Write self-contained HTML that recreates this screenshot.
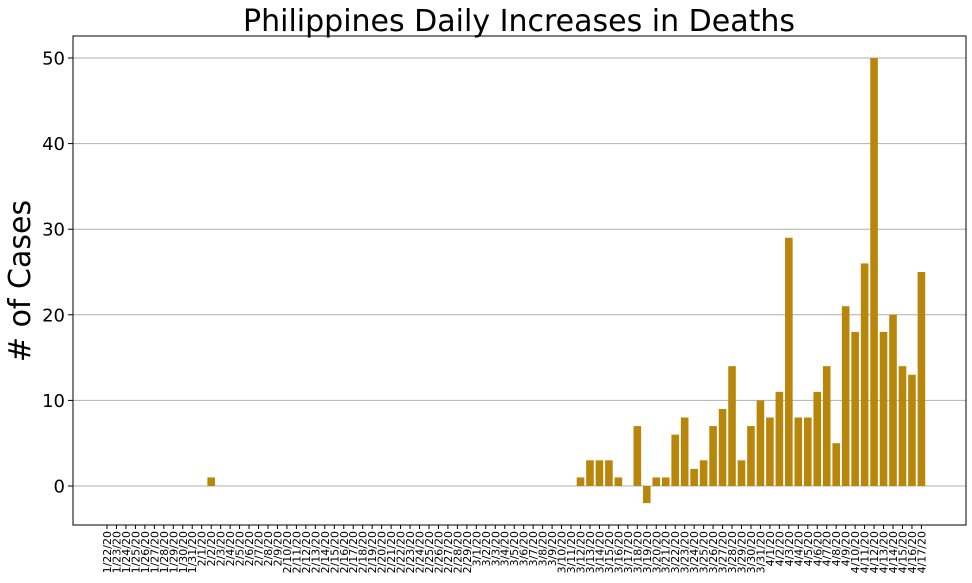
<!DOCTYPE html>
<html><head><meta charset="utf-8"><style>
body{margin:0;background:#fff;font-family:"Liberation Sans","DejaVu Sans",sans-serif}
</style></head><body>
<svg id="chart" width="972" height="578" xmlns="http://www.w3.org/2000/svg" style="font-family:'DejaVu Sans','Liberation Sans',sans-serif">
<rect width="972" height="578" fill="#fff"/>
<text x="519" y="31" text-anchor="middle" font-size="30">Philippines Daily Increases in Deaths</text>
<text transform="translate(30,281) rotate(-90)" text-anchor="middle" font-size="30"># of Cases</text>
<g id="grid"></g><g id="bars"></g><g id="yticks"></g><g id="xticks"></g>
<rect x="73" y="36" width="893" height="489" fill="none" stroke="#000" stroke-width="1"/>
</svg>
<script>
const yTicks=[0,10,20,30,40,50];
const startDate=[1,22];
const values=[0,0,0,0,0,0,0,0,0,0, 0,1,0,0,0,0,0,0,0,0, 0,0,0,0,0,0,0,0,0,0, 0,0,0,0,0,0,0,0,0, 0,0,0,0,0,0,0,0,0,0,0,
1,3,3,3,1,0,7,-2,1,1, 6,8,2,3,7,9,14,3,7,10, 8,11,29,8,8,11,14,5,21,18,26,50,18,20,14,13,25];
const ns="http://www.w3.org/2000/svg";
const months=[31,29,31,30];
const labels=[];{let m=1,d=22;for(let i=0;i<values.length;i++){labels.push(m+"/"+d+"/20");d++;if(d>months[m-1]){d=1;m++;}}}
const y=v=>486-v*8.56, x=i=>107+i*9.47, bw=7.6;
function mk(t,a,p){const e=document.createElementNS(ns,t);for(const k in a)e.setAttribute(k,a[k]);document.getElementById(p).appendChild(e);return e;}
yTicks.forEach(t=>{
 const g=mk('line',{x1:73,x2:966,y1:y(t),y2:y(t),stroke:'#b0b0b0','stroke-width':1},'grid');
 
 
 mk('line',{x1:68,x2:73,y1:y(t),y2:y(t),stroke:'#000'},'yticks');
 const l=mk('text',{x:65,y:y(t)+6.5,'text-anchor':'end','font-size':18},'yticks');l.textContent=t;
 
 
});
values.forEach((v,i)=>{
 if(v!==0){const r=mk('rect',{x:x(i)-bw/2,y:Math.min(y(v),y(0)),width:bw,height:Math.abs(y(v)-y(0)),fill:'#b8860b'},'bars');
 
 }
 mk('line',{x1:x(i),x2:x(i),y1:525,y2:529,stroke:'#000'},'xticks');
 const t=mk('text',{transform:`translate(${x(i)+4},531) rotate(-90)`,'text-anchor':'end','font-size':11},'xticks');t.textContent=labels[i];
 
 
});
</script>
</body></html>
